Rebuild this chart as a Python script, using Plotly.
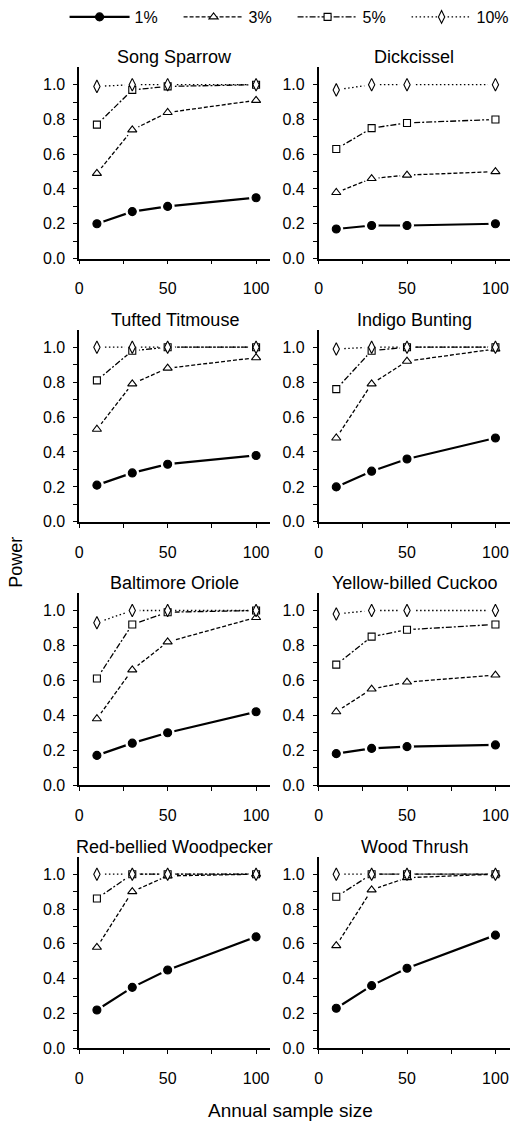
import plotly.graph_objects as go

# ---------------- data ----------------
sample_sizes = [10, 30, 50, 100]
species = ["Song Sparrow", "Dickcissel", "Tufted Titmouse", "Indigo Bunting",
           "Baltimore Oriole", "Yellow-billed Cuckoo", "Red-bellied Woodpecker", "Wood Thrush"]

power_1 = [
    [0.20, 0.27, 0.30, 0.35],
    [0.17, 0.19, 0.19, 0.20],
    [0.21, 0.28, 0.33, 0.38],
    [0.20, 0.29, 0.36, 0.48],
    [0.17, 0.24, 0.30, 0.42],
    [0.18, 0.21, 0.22, 0.23],
    [0.22, 0.35, 0.45, 0.64],
    [0.23, 0.36, 0.46, 0.65],
]
power_3 = [
    [0.49, 0.74, 0.84, 0.91],
    [0.38, 0.46, 0.48, 0.50],
    [0.53, 0.79, 0.88, 0.94],
    [0.48, 0.79, 0.92, 0.99],
    [0.38, 0.66, 0.82, 0.96],
    [0.42, 0.55, 0.59, 0.63],
    [0.58, 0.90, 0.99, 1.00],
    [0.59, 0.91, 0.98, 1.00],
]
power_5 = [
    [0.77, 0.97, 0.99, 1.00],
    [0.63, 0.75, 0.78, 0.80],
    [0.81, 0.98, 1.00, 1.00],
    [0.76, 0.98, 1.00, 1.00],
    [0.61, 0.92, 0.99, 1.00],
    [0.69, 0.85, 0.89, 0.92],
    [0.86, 1.00, 1.00, 1.00],
    [0.87, 1.00, 1.00, 1.00],
]
power_10 = [
    [0.99, 1.00, 1.00, 1.00],
    [0.97, 1.00, 1.00, 1.00],
    [1.00, 1.00, 1.00, 1.00],
    [0.99, 1.00, 1.00, 1.00],
    [0.93, 1.00, 1.00, 1.00],
    [0.98, 1.00, 1.00, 1.00],
    [1.00, 1.00, 1.00, 1.00],
    [1.00, 1.00, 1.00, 1.00],
]
series_names = ["1%", "3%", "5%", "10%"]
series_values = [power_1, power_3, power_5, power_10]

# ---------------- styles ----------------
FONT = "Liberation Sans, Arial, Helvetica, sans-serif"
styles = [
    dict(dash="solid", width=2.2, symbol="circle", size=8, fill="black"),
    dict(dash="4px,2px", width=1.3, symbol="triangle-up", size=8, fill="white"),
    dict(dash="6px,2px,2px,2px", width=1.3, symbol="square", size=7, fill="white"),
    dict(dash="1.5px,2.5px", width=1.3, symbol="diamond-tall", size=9, fill="white"),
]

W, H = 521, 1131
col_px = [(77, 272.5), (322, 517.5)]
row_px = [(57.3, 252), (324.5, 520), (592.5, 788), (861, 1056)]

fig = go.Figure()
layout_axes = {}
annotations = []

for i, sp in enumerate(species):
    r, c = divmod(i, 2)
    idx = i + 1
    xa = "x" if idx == 1 else f"x{idx}"
    ya = "y" if idx == 1 else f"y{idx}"
    xkey = "xaxis" if idx == 1 else f"xaxis{idx}"
    ykey = "yaxis" if idx == 1 else f"yaxis{idx}"
    x0, x1 = col_px[c]
    top, bot = row_px[r]
    layout_axes[xkey] = dict(
        domain=[x0 / W, x1 / W], anchor=ya, range=[0, 108],
        tickvals=[0, 50, 100], ticks="outside", ticklen=4, tickwidth=1.2,
        showline=True, linecolor="black", linewidth=1.5, showgrid=False, zeroline=False,
        tickfont=dict(family=FONT, size=16, color="black"), ticklabelstandoff=11,
        minor=dict(tickvals=[25, 75], ticks="outside", ticklen=4, tickwidth=1.0, tickcolor="black"),
        tickcolor="black",
    )
    layout_axes[ykey] = dict(
        domain=[1 - bot / H, 1 - top / H], anchor=xa, range=[0, 1.1],
        tickvals=[0, 0.2, 0.4, 0.6, 0.8, 1.0], tickformat=".1f",
        ticks="outside", ticklen=4, tickwidth=1.2, tickcolor="black",
        showline=True, linecolor="black", linewidth=1.5, showgrid=False, zeroline=False,
        tickfont=dict(family=FONT, size=16, color="black"), ticklabelstandoff=5,
        minor=dict(tickvals=[0.1, 0.3, 0.5, 0.7, 0.9], ticks="outside", ticklen=4,
                   tickwidth=1.0, tickcolor="black"),
    )
    annotations.append(dict(
        text=sp, x=(x0 + x1) / 2 / W, y=1 - top / H, xref="paper", yref="paper",
        xanchor="center", yanchor="middle", yshift=10, showarrow=False,
        font=dict(family=FONT, size=18, color="black")))

    # lines
    for s, (name, vals) in enumerate(zip(series_names, series_values)):
        st = styles[s]
        fig.add_trace(go.Scatter(
            x=sample_sizes, y=vals[i], mode="lines", xaxis=xa, yaxis=ya,
            line=dict(color="black", width=st["width"], dash=st["dash"]),
            showlegend=False, hoverinfo="skip", cliponaxis=False))
    # white halos creating gaps around markers
    for s, (name, vals) in enumerate(zip(series_names, series_values)):
        st = styles[s]
        fig.add_trace(go.Scatter(
            x=sample_sizes, y=vals[i], mode="markers", xaxis=xa, yaxis=ya,
            marker=dict(symbol="circle", size=st["size"] + 6, color="white"),
            showlegend=False, hoverinfo="skip", cliponaxis=False))
    # markers
    for s, (name, vals) in enumerate(zip(series_names, series_values)):
        st = styles[s]
        fig.add_trace(go.Scatter(
            x=sample_sizes, y=vals[i], mode="markers", xaxis=xa, yaxis=ya, name=name,
            marker=dict(symbol=st["symbol"], size=st["size"], color=st["fill"],
                        line=dict(color="black", width=1.1)),
            showlegend=False, cliponaxis=False))

# legend entries
for s, name in enumerate(series_names):
    st = styles[s]
    fig.add_trace(go.Scatter(
        x=[None], y=[None], mode="lines+markers", name=name,
        line=dict(color="black", width=st["width"], dash=st["dash"]),
        marker=dict(symbol=st["symbol"], size=st["size"], color=st["fill"],
                    line=dict(color="black", width=1.1)),
        showlegend=True))

annotations.append(dict(
    text="Power", x=12 / W, y=1 - 561 / H, xref="paper", yref="paper", textangle=-90,
    xanchor="center", yanchor="middle", showarrow=False,
    font=dict(family=FONT, size=18, color="black")))
annotations.append(dict(
    text="Annual sample size", x=293 / W, y=1 - 1119 / H, xref="paper", yref="paper",
    xanchor="center", yanchor="middle", showarrow=False,
    font=dict(family=FONT, size=19, color="black")))

fig.update_layout(
    width=W, height=H, margin=dict(l=0, r=0, t=0, b=0),
    paper_bgcolor="white", plot_bgcolor="white",
    showlegend=True,
    legend=dict(orientation="h", x=62 / W, y=1 - 6 / H, xanchor="left", yanchor="middle",
                font=dict(family=FONT, size=16, color="black"),
                entrywidth=39, entrywidthmode="pixels", itemwidth=60,
                bgcolor="rgba(0,0,0,0)", borderwidth=0),
    annotations=annotations,
    **layout_axes,
)

fig.write_html(
    "out.html",
    config={"displayModeBar": False},
    post_script="document.body.style.margin='0';document.body.style.overflow='hidden';",
)
